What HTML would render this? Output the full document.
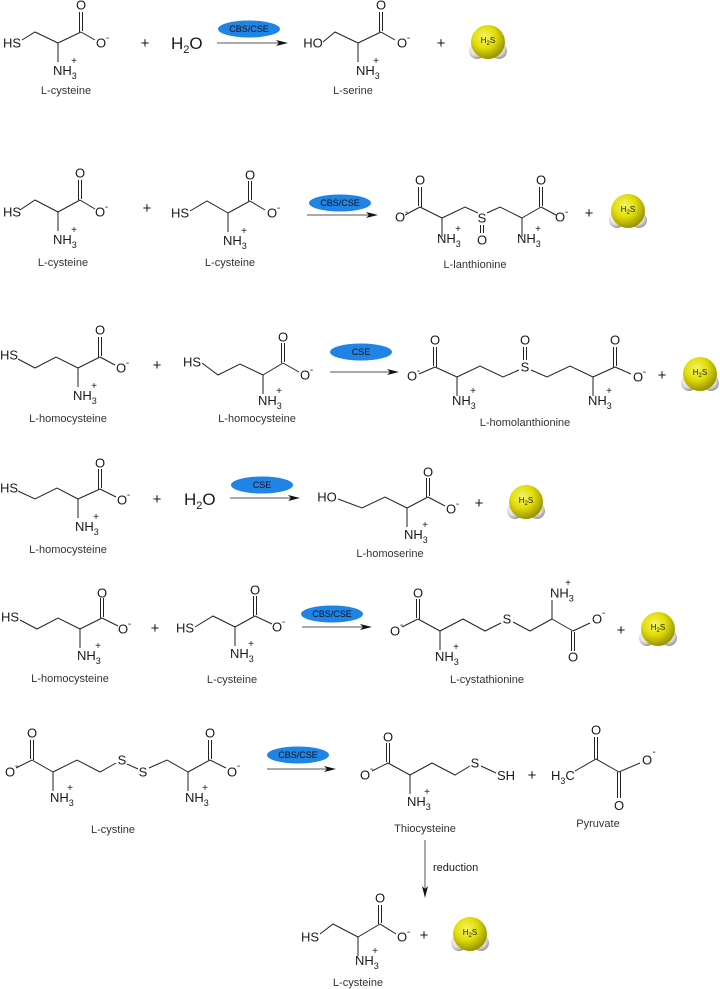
<!DOCTYPE html>
<html><head><meta charset="utf-8">
<style>
html,body{margin:0;padding:0;background:#fff}
svg{display:block}
text{font-family:"Liberation Sans",sans-serif;fill:#1a1a1a}
.a{font-size:13px;text-anchor:middle}
.n{font-size:13px}
.l{font-size:11px;text-anchor:middle;fill:#333}
.s{font-size:10px;text-anchor:middle}
.p{font-size:15px;text-anchor:middle}
.e{font-size:9px;text-anchor:middle;fill:#111}
.b{fill:none;stroke:#222;stroke-width:1}
.ar{stroke:#555;stroke-width:1}
</style></head><body>
<svg width="720" height="989" viewBox="0 0 720 989" xmlns="http://www.w3.org/2000/svg">
<defs>
<radialGradient id="yg" cx="40%" cy="35%" r="65%"><stop offset="0" stop-color="#f4f46a"/><stop offset="0.5" stop-color="#e2de0a"/><stop offset="1" stop-color="#9a9400"/></radialGradient>
<radialGradient id="wg" cx="40%" cy="35%" r="70%"><stop offset="0" stop-color="#ffffff"/><stop offset="0.6" stop-color="#dcdcdc"/><stop offset="1" stop-color="#8a8a8a"/></radialGradient>
</defs>

<!-- ========== ROW 1 ========== -->
<text class="a" x="12" y="47.5">HS</text>
<path class="b" d="M22,40L35,32L58,43"/>
<g transform="translate(58,43)"><path class="b" d="M0,0L23,-11M21.5,-11V-31M24.5,-12V-31M23,-11L37,-3M0,0V19"/><text class="a" x="23" y="-33.5">O</text><text class="a" x="43" y="4.5">O</text><text class="s" x="49.5" y="-2">-</text><text class="n" x="-5" y="32">NH<tspan font-size="9" dy="4">3</tspan></text><text class="s" x="16" y="21">+</text></g>
<text class="l" x="66" y="94">L-cysteine</text>
<text class="p" x="145" y="48">+</text>
<text x="171" y="49" font-size="17">H<tspan font-size="11" dy="4">2</tspan><tspan dy="-4">O</tspan></text>
<ellipse cx="249" cy="29" rx="31" ry="8.5" fill="#1f84e6"/><text class="e" x="249" y="32">CBS/CSE</text>
<line class="ar" x1="217" y1="43" x2="280" y2="43"/><polygon points="288,43 276,40 279,43 276,46" fill="#111"/>
<text class="a" x="313" y="47.5">HO</text>
<path class="b" d="M323,42L335,32L358,43"/>
<g transform="translate(358,43)"><path class="b" d="M0,0L23,-11M21.5,-11V-31M24.5,-12V-31M23,-11L37,-3M0,0V19"/><text class="a" x="23" y="-33.5">O</text><text class="a" x="44" y="4.5">O</text><text class="s" x="50.5" y="-2">-</text><text class="n" x="-2" y="32">NH<tspan font-size="9" dy="4">3</tspan></text><text class="s" x="18" y="21">+</text></g>
<text class="l" x="353" y="94">L-serine</text>
<text class="p" x="441" y="48">+</text>
<g transform="translate(488,42)"><circle cx="-11" cy="9" r="8" fill="url(#wg)"/><circle cx="11" cy="9" r="8" fill="url(#wg)"/><circle r="17" fill="url(#yg)"/><text x="0" y="1" font-size="8" text-anchor="middle" fill="#333">H<tspan font-size="6" dy="2">2</tspan><tspan dy="-2">S</tspan></text></g>

<!-- ========== ROW 2 ========== -->
<text class="a" x="12" y="216.5">HS</text>
<path class="b" d="M20,210L35,200L58,212"/>
<g transform="translate(58,212)"><path class="b" d="M0,0L22,-12M20.5,-12V-32M23.5,-13V-32M22,-12L37,-3M0,0V19"/><text class="a" x="22" y="-34.5">O</text><text class="a" x="42" y="4.5">O</text><text class="s" x="48.5" y="-2">-</text><text class="n" x="-5" y="32">NH<tspan font-size="9" dy="4">3</tspan></text><text class="s" x="16" y="21">+</text></g>
<text class="l" x="63" y="266">L-cysteine</text>
<text class="p" x="147" y="213">+</text>
<text class="a" x="180" y="217.5">HS</text>
<path class="b" d="M190,211L207,201L228,213"/>
<g transform="translate(228,213)"><path class="b" d="M0,0L22,-12M20.5,-12V-32M23.5,-13V-32M22,-12L37,-3M0,0V19"/><text class="a" x="22" y="-33.5">O</text><text class="a" x="44" y="4.5">O</text><text class="s" x="50.5" y="-2">-</text><text class="n" x="-5" y="32">NH<tspan font-size="9" dy="4">3</tspan></text><text class="s" x="16" y="21">+</text></g>
<text class="l" x="230" y="266">L-cysteine</text>
<ellipse cx="340" cy="203" rx="31" ry="8.5" fill="#1f84e6"/><text class="e" x="340" y="206">CBS/CSE</text>
<line class="ar" x1="307" y1="215" x2="370" y2="215"/><polygon points="378,215 366,212 369,215 366,218" fill="#111"/>
<g transform="translate(442,218)"><path class="b" d="M0,0L-22,-11M-20.5,-11V-31M-23.5,-12V-31M-22,-11L-37,-3M0,0V19"/><text class="a" x="-22" y="-33.5">O</text><text class="a" x="-42" y="3.5">O</text><text class="s" x="-35.5" y="-3">-</text><text class="n" x="-5" y="25">NH<tspan font-size="9" dy="4">3</tspan></text><text class="s" x="16" y="14">+</text></g>
<path class="b" d="M442,218L465,207L478,213M487,213L500,207L522,218M480.5,225V233M483.5,225V233"/>
<text class="a" x="482" y="222.5">S</text><text class="a" x="482" y="244.5">O</text>
<g transform="translate(522,218)"><path class="b" d="M0,0L19,-11M17.5,-11V-31M20.5,-12V-31M19,-11L34,-3M0,0V19"/><text class="a" x="19" y="-33.5">O</text><text class="a" x="38" y="3.5">O</text><text class="s" x="44.5" y="-3">-</text><text class="n" x="-5" y="25">NH<tspan font-size="9" dy="4">3</tspan></text><text class="s" x="16" y="14">+</text></g>
<text class="l" x="475" y="268">L-lanthionine</text>
<text class="p" x="589" y="218">+</text>
<g transform="translate(628,211)"><circle cx="-11" cy="9" r="8" fill="url(#wg)"/><circle cx="11" cy="9" r="8" fill="url(#wg)"/><circle r="17" fill="url(#yg)"/><text x="0" y="1" font-size="8" text-anchor="middle" fill="#333">H<tspan font-size="6" dy="2">2</tspan><tspan dy="-2">S</tspan></text></g>

<!-- ========== ROW 3 ========== -->
<text class="a" x="9" y="359.5">HS</text>
<path class="b" d="M18,359L35,368L56,357L78,368"/>
<g transform="translate(78,368)"><path class="b" d="M0,0L22,-11M20.5,-11V-31M23.5,-12V-31M22,-11L37,-3M0,0V19"/><text class="a" x="22" y="-33.5">O</text><text class="a" x="43" y="4.5">O</text><text class="s" x="49.5" y="-2">-</text><text class="n" x="-5" y="32">NH<tspan font-size="9" dy="4">3</tspan></text><text class="s" x="16" y="21">+</text></g>
<text class="l" x="68" y="422">L-homocysteine</text>
<text class="p" x="157" y="370">+</text>
<text class="a" x="192" y="366.5">HS</text>
<path class="b" d="M202,363L218,375L240,364L263,375"/>
<g transform="translate(263,375)"><path class="b" d="M0,0L20,-12M18.5,-12V-32M21.5,-13V-32M20,-12L36,-3M0,0V19"/><text class="a" x="20" y="-33.5">O</text><text class="a" x="42" y="4.5">O</text><text class="s" x="48.5" y="-2">-</text><text class="n" x="-5" y="30">NH<tspan font-size="9" dy="4">3</tspan></text><text class="s" x="16" y="19">+</text></g>
<text class="l" x="257" y="422">L-homocysteine</text>
<ellipse cx="361" cy="352" rx="31" ry="8.5" fill="#1f84e6"/><text class="e" x="361" y="355">CSE</text>
<line class="ar" x1="330" y1="372" x2="391" y2="372"/><polygon points="399,372 387,369 390,372 387,375" fill="#111"/>
<g transform="translate(457,377)"><path class="b" d="M0,0L-22,-10M-20.5,-10V-30M-23.5,-11V-30M-22,-10L-38,-3M0,0V19"/><text class="a" x="-22" y="-32.5">O</text><text class="a" x="-45" y="3.5">O</text><text class="s" x="-38.5" y="-3">-</text><text class="n" x="-5" y="28">NH<tspan font-size="9" dy="4">3</tspan></text><text class="s" x="16" y="17">+</text></g>
<path class="b" d="M457,377L480,366L503,377L519,370M531,370L547,377L570,366L593,377M523.5,360V347M526.5,360V347"/>
<text class="a" x="525" y="371.5">S</text><text class="a" x="525" y="344.5">O</text>
<g transform="translate(593,377)"><path class="b" d="M0,0L22,-10M20.5,-10V-30M23.5,-11V-30M22,-10L38,-3M0,0V19"/><text class="a" x="22" y="-32.5">O</text><text class="a" x="45" y="4.5">O</text><text class="s" x="51.5" y="-2">-</text><text class="n" x="-5" y="28">NH<tspan font-size="9" dy="4">3</tspan></text><text class="s" x="16" y="17">+</text></g>
<text class="l" x="525" y="426">L-homolanthionine</text>
<text class="p" x="662" y="380">+</text>
<g transform="translate(700,374)"><circle cx="-11" cy="9" r="8" fill="url(#wg)"/><circle cx="11" cy="9" r="8" fill="url(#wg)"/><circle r="17" fill="url(#yg)"/><text x="0" y="1" font-size="8" text-anchor="middle" fill="#333">H<tspan font-size="6" dy="2">2</tspan><tspan dy="-2">S</tspan></text></g>

<!-- ========== ROW 4 ========== -->
<text class="a" x="9" y="492.5">HS</text>
<path class="b" d="M18,491L35,499L57,488L78,499"/>
<g transform="translate(78,499)"><path class="b" d="M0,0L22,-10M20.5,-10V-30M23.5,-11V-30M22,-10L38,-2M0,0V19"/><text class="a" x="22" y="-31.5">O</text><text class="a" x="44" y="5.5">O</text><text class="s" x="50.5" y="-1">-</text><text class="n" x="-3" y="32">NH<tspan font-size="9" dy="4">3</tspan></text><text class="s" x="18" y="21">+</text></g>
<text class="l" x="68" y="553">L-homocysteine</text>
<text class="p" x="157" y="504">+</text>
<text x="184" y="505" font-size="17">H<tspan font-size="11" dy="4">2</tspan><tspan dy="-4">O</tspan></text>
<ellipse cx="262" cy="485" rx="31" ry="8.5" fill="#1f84e6"/><text class="e" x="262" y="488">CSE</text>
<line class="ar" x1="230" y1="498" x2="292" y2="498"/><polygon points="300,498 288,495 291,498 288,501" fill="#111"/>
<text class="a" x="327" y="501.5">HO</text>
<path class="b" d="M338,499L362,508L385,497L407,508"/>
<g transform="translate(407,508)"><path class="b" d="M0,0L21,-11M19.5,-11V-30M22.5,-12V-30M21,-11L38,-2M0,0V19"/><text class="a" x="21" y="-31.5">O</text><text class="a" x="44" y="5.5">O</text><text class="s" x="50.5" y="-1">-</text><text class="n" x="-3" y="31">NH<tspan font-size="9" dy="4">3</tspan></text><text class="s" x="18" y="20">+</text></g>
<text class="l" x="390" y="557">L-homoserine</text>
<text class="p" x="479" y="508">+</text>
<g transform="translate(526,502)"><circle cx="-11" cy="9" r="8" fill="url(#wg)"/><circle cx="11" cy="9" r="8" fill="url(#wg)"/><circle r="17" fill="url(#yg)"/><text x="0" y="1" font-size="8" text-anchor="middle" fill="#333">H<tspan font-size="6" dy="2">2</tspan><tspan dy="-2">S</tspan></text></g>

<!-- ========== ROW 5 ========== -->
<text class="a" x="10" y="621.5">HS</text>
<path class="b" d="M20,620L37,629L58,618L80,629"/>
<g transform="translate(80,629)"><path class="b" d="M0,0L22,-11M20.5,-11V-31M23.5,-12V-31M22,-11L38,-3M0,0V19"/><text class="a" x="22" y="-31.5">O</text><text class="a" x="43" y="4.5">O</text><text class="s" x="49.5" y="-2">-</text><text class="n" x="-3" y="31">NH<tspan font-size="9" dy="4">3</tspan></text><text class="s" x="18" y="20">+</text></g>
<text class="l" x="70" y="682">L-homocysteine</text>
<text class="p" x="155" y="633">+</text>
<text class="a" x="185" y="632.5">HS</text>
<path class="b" d="M195,627L213,616L235,627"/>
<g transform="translate(235,627)"><path class="b" d="M0,0L20,-11M18.5,-11V-31M21.5,-12V-31M20,-11L37,-3M0,0V19"/><text class="a" x="20" y="-32.5">O</text><text class="a" x="42" y="4.5">O</text><text class="s" x="48.5" y="-2">-</text><text class="n" x="-5" y="31">NH<tspan font-size="9" dy="4">3</tspan></text><text class="s" x="16" y="20">+</text></g>
<text class="l" x="232" y="683">L-cysteine</text>
<ellipse cx="332" cy="614" rx="31" ry="8.5" fill="#1f84e6"/><text class="e" x="332" y="617">CBS/CSE</text>
<line class="ar" x1="302" y1="627" x2="364" y2="627"/><polygon points="372,627 360,624 363,627 360,630" fill="#111"/>
<g transform="translate(440,631)"><path class="b" d="M0,0L-22,-12M-20.5,-12V-32M-23.5,-13V-32M-22,-12L-38,-4M0,0V19"/><text class="a" x="-22" y="-33.5">O</text><text class="a" x="-45" y="4.5">O</text><text class="s" x="-38.5" y="-3">-</text><text class="n" x="-5" y="30">NH<tspan font-size="9" dy="4">3</tspan></text><text class="s" x="16" y="19">+</text></g>
<path class="b" d="M440,631L463,619L485,631L501,623M513,622L530,631L552,619"/>
<text class="a" x="507" y="623.5">S</text>
<g transform="translate(552,619)"><path class="b" d="M0,0L21,12M19.5,12V32M22.5,13V32M21,12L38,4M0,0V-19"/><text class="a" x="21" y="42.5">O</text><text class="a" x="45" y="4.5">O</text><text class="s" x="51.5" y="-3">-</text><text class="n" x="-2" y="-21.5">NH<tspan font-size="9" dy="4">3</tspan></text><text class="s" x="16" y="-33">+</text></g>
<text class="l" x="487" y="683">L-cystathionine</text>
<text class="p" x="621" y="635">+</text>
<g transform="translate(658,629)"><circle cx="-11" cy="9" r="8" fill="url(#wg)"/><circle cx="11" cy="9" r="8" fill="url(#wg)"/><circle r="17" fill="url(#yg)"/><text x="0" y="1" font-size="8" text-anchor="middle" fill="#333">H<tspan font-size="6" dy="2">2</tspan><tspan dy="-2">S</tspan></text></g>

<!-- ========== ROW 6 ========== -->
<g transform="translate(53,772)"><path class="b" d="M0,0L-21,-12M-19.5,-12V-32M-22.5,-13V-32M-21,-12L-37,-4M0,0V19"/><text class="a" x="-21" y="-34.5">O</text><text class="a" x="-43" y="4.5">O</text><text class="s" x="-36.5" y="-3">-</text><text class="n" x="-3" y="30">NH<tspan font-size="9" dy="4">3</tspan></text><text class="s" x="17" y="19">+</text></g>
<path class="b" d="M53,772L77,760L100,772L116,763M127,764L138,769M149,768L167,760L188,772"/>
<text class="a" x="122" y="764.5">S</text><text class="a" x="143" y="776.5">S</text>
<g transform="translate(188,772)"><path class="b" d="M0,0L22,-12M20.5,-12V-32M23.5,-13V-32M22,-12L38,-4M0,0V19"/><text class="a" x="22" y="-34.5">O</text><text class="a" x="44" y="4.5">O</text><text class="s" x="50.5" y="-3">-</text><text class="n" x="-3" y="30">NH<tspan font-size="9" dy="4">3</tspan></text><text class="s" x="17" y="19">+</text></g>
<text class="l" x="113" y="833">L-cystine</text>
<ellipse cx="298" cy="755" rx="31" ry="8.5" fill="#1f84e6"/><text class="e" x="298" y="758">CBS/CSE</text>
<line class="ar" x1="267" y1="769" x2="328" y2="769"/><polygon points="336,769 324,766 327,769 324,772" fill="#111"/>
<g transform="translate(410,775)"><path class="b" d="M0,0L-22,-12M-20.5,-12V-32M-23.5,-13V-32M-22,-12L-38,-4M0,0V19"/><text class="a" x="-22" y="-33.5">O</text><text class="a" x="-45" y="4.5">O</text><text class="s" x="-38.5" y="-3">-</text><text class="n" x="-3" y="31">NH<tspan font-size="9" dy="4">3</tspan></text><text class="s" x="17" y="20">+</text></g>
<path class="b" d="M410,775L432,763L455,775L470,766M481,766L496,773"/>
<text class="a" x="475" y="767.5">S</text><text class="a" x="506" y="780">SH</text>
<text class="l" x="425" y="832">Thiocysteine</text>
<text class="p" x="532" y="780">+</text>
<text class="n" x="551" y="780">H<tspan font-size="9" dy="4">3</tspan><tspan dy="-4">C</tspan></text>
<path class="b" d="M575,771L596,759L619,772L640,763M594.5,759V737M597.5,760V737M617.5,772V798M620.5,772V798"/>
<text class="a" x="596" y="734.5">O</text><text class="a" x="619" y="810">O</text><text class="a" x="647" y="764.5">O</text><text class="s" x="654" y="755">-</text>
<text class="l" x="598" y="827">Pyruvate</text>
<line class="ar" x1="425" y1="840" x2="425" y2="890"/><polygon points="425,898 422,886 425,889 428,886" fill="#111"/>
<text x="433" y="871" font-size="11" fill="#333">reduction</text>
<text class="a" x="310" y="941.5">HS</text>
<path class="b" d="M320,934L333,924L358,937"/>
<g transform="translate(358,937)"><path class="b" d="M0,0L22,-13M20.5,-13V-32M23.5,-14V-32M22,-13L38,-3M0,0V19"/><text class="a" x="22" y="-34.5">O</text><text class="a" x="44" y="4.5">O</text><text class="s" x="50.5" y="-2">-</text><text class="n" x="-3" y="28">NH<tspan font-size="9" dy="4">3</tspan></text><text class="s" x="17" y="17">+</text></g>
<text class="l" x="358" y="986">L-cysteine</text>
<text class="p" x="424" y="940">+</text>
<g transform="translate(470,934)"><circle cx="-11" cy="9" r="8" fill="url(#wg)"/><circle cx="11" cy="9" r="8" fill="url(#wg)"/><circle r="17" fill="url(#yg)"/><text x="0" y="1" font-size="8" text-anchor="middle" fill="#333">H<tspan font-size="6" dy="2">2</tspan><tspan dy="-2">S</tspan></text></g>
</svg>
</body></html>
